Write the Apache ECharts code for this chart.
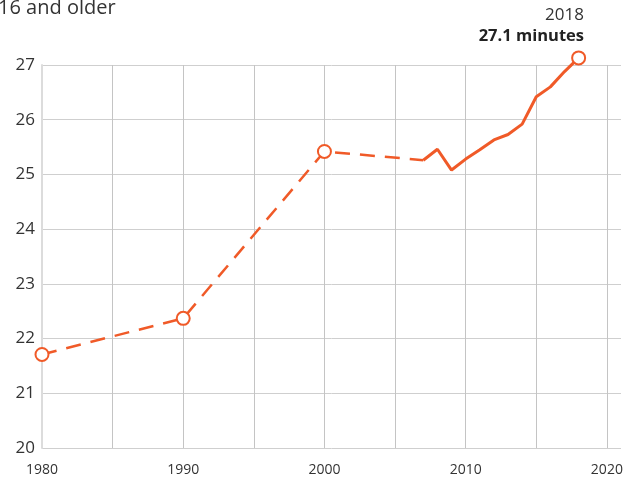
<!DOCTYPE html>
<html>
<head>
<meta charset="utf-8">
<script src="https://cdn.jsdelivr.net/npm/echarts@6/dist/echarts.min.js"></script>
<style>html,body{margin:0;padding:0;background:#fff}#c{width:628px;height:479px}</style>
</head>
<body>
<div id="c"></div>
<script>
// Data
const decadeYears = [1980, 1990, 2000, 2007];
const decadeValues = [21.71, 22.37, 25.42, 25.26];
const annualYears = [2007, 2008, 2009, 2010, 2011, 2012, 2013, 2014, 2015, 2016, 2017, 2018];
const annualValues = [25.26, 25.46, 25.08, 25.28, 25.45, 25.63, 25.73, 25.92, 26.42, 26.6, 26.88, 27.13];
const yTicks = [20, 21, 22, 23, 24, 25, 26, 27];
const xLabelYears = [1980, 1990, 2000, 2010, 2020];
const subtitle = '16 and older';
const annoYear = '2018';
const annoValue = '27.1 minutes';

const ORANGE = '#f05a28';
const FONT = '"Open Sans", "Liberation Sans", sans-serif';

const chart = echarts.init(document.getElementById('c'));

const dashedData = decadeYears.map((y, i) => {
  const d = { value: [y, decadeValues[i]] };
  if (i === decadeYears.length - 1) d.symbol = 'none';
  return d;
});
const solidData = annualYears.map((y, i) => {
  const d = { value: [y, annualValues[i]] };
  d.symbol = (i === annualYears.length - 1) ? 'circle' : 'none';
  return d;
});

chart.setOption({
  animation: false,
  backgroundColor: '#fff',
  grid: { left: 42, right: 7, top: 65, bottom: 31, containLabel: false },
  xAxis: {
    type: 'value', min: 1980, max: 2021, interval: 5,
    axisLine: { show: false }, axisTick: { show: false },
    axisLabel: {
      color: '#333', fontSize: 14, fontFamily: FONT, margin: 15,
      showMaxLabel: false,
      formatter: v => xLabelYears.includes(v) ? String(v) : ''
    },
    splitLine: { show: true, showMinLine: false, showMaxLine: false, lineStyle: { color: '#c4c4c4', width: 1 } }
  },
  yAxis: {
    type: 'value', min: 20, max: 27, interval: 1,
    axisLine: { show: true, lineStyle: { color: '#dcdcdc', width: 2 } },
    axisTick: { show: false },
    axisLabel: {
      color: '#333', fontSize: 17, fontFamily: FONT, margin: 7,
      formatter: v => yTicks.includes(v) ? String(v) : ''
    },
    splitLine: { show: true, lineStyle: { color: '#cfcfcf', width: 1 } }
  },
  series: [
    {
      type: 'line', data: dashedData, clip: false,
      symbol: 'circle', symbolSize: 13,
      itemStyle: { color: '#fff', borderColor: ORANGE, borderWidth: 2 },
      lineStyle: { color: ORANGE, width: 2.5, type: [15, 10] },
      z: 3
    },
    {
      type: 'line', data: solidData, clip: false,
      symbolSize: 13,
      itemStyle: { color: '#fff', borderColor: ORANGE, borderWidth: 2 },
      lineStyle: { color: ORANGE, width: 3 },
      z: 4
    }
  ],
  graphic: [
    { type: 'text', left: -2, top: -2, style: { text: subtitle, fontSize: 20, fontFamily: FONT, fill: '#333' } },
    { type: 'text', right: 44, top: 7, style: { text: annoYear, fontSize: 17, fontFamily: FONT, fill: '#333' } },
    { type: 'text', right: 44, top: 28, style: { text: annoValue, fontSize: 16.5, fontWeight: 'bold', fontFamily: FONT, fill: '#222' } }
  ]
});
</script>
</body>
</html>
